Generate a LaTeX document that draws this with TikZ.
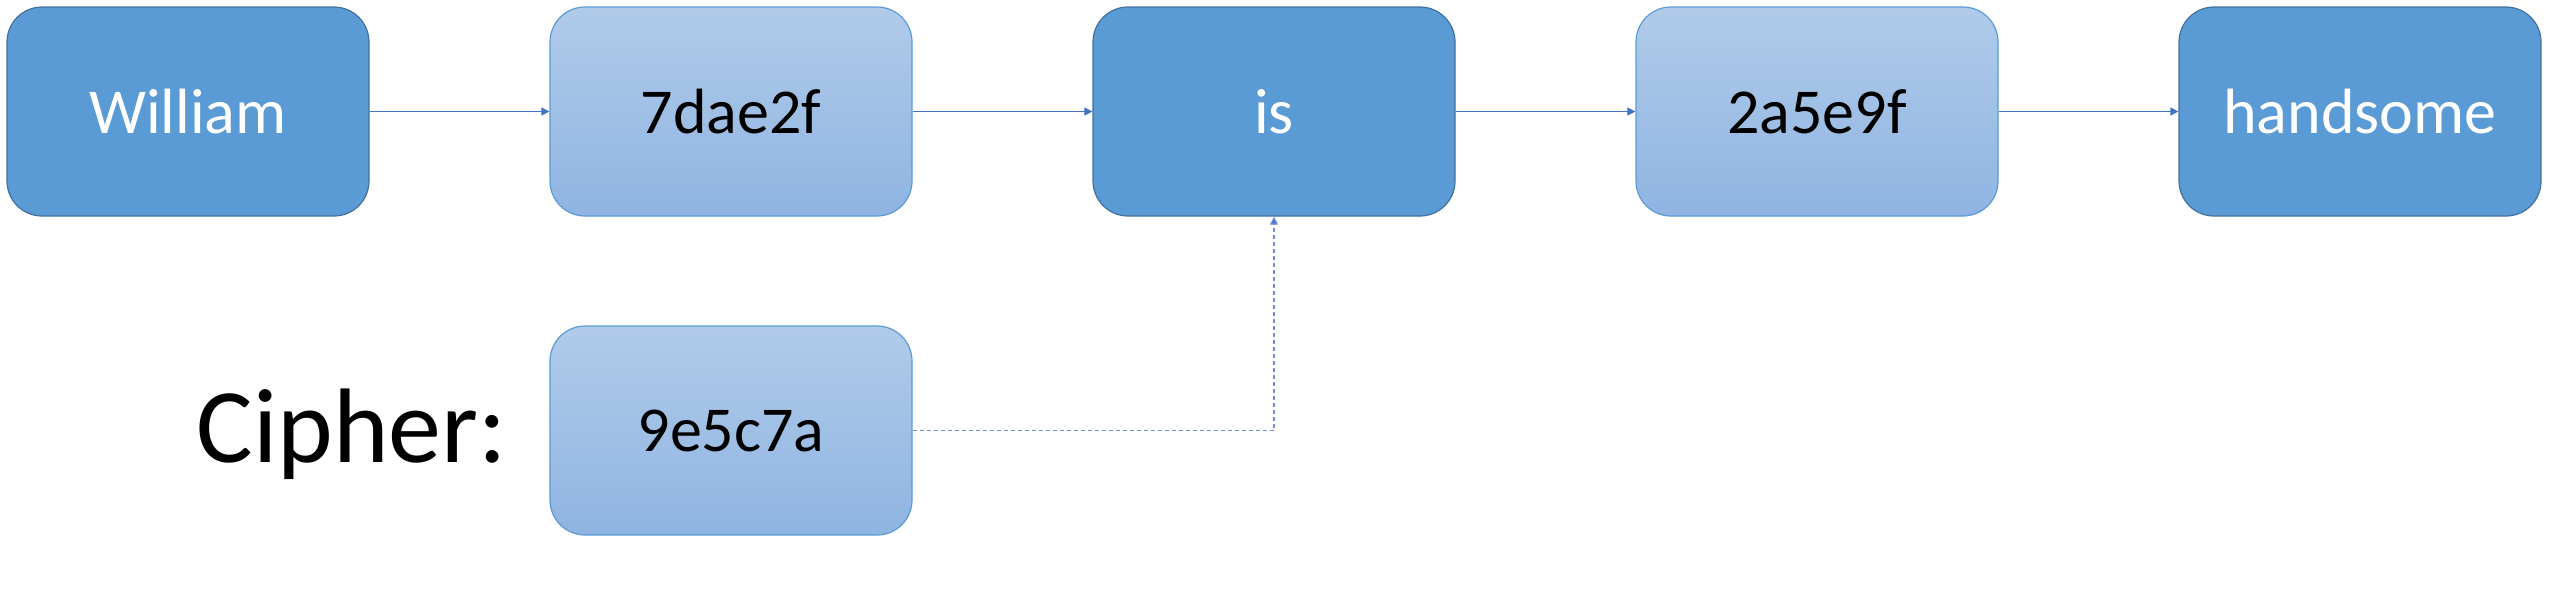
\documentclass[tikz,border=0pt]{standalone}
\usepackage{fontspec}
\setmainfont{Carlito}
\usetikzlibrary{arrows.meta}
\definecolor{darkfill}{HTML}{5B9BD5}
\definecolor{darkline}{HTML}{41719C}
\definecolor{lighttop}{HTML}{B1CBE9}
\definecolor{lightbot}{HTML}{8FB4E2}
\definecolor{lightline}{HTML}{5B9BD5}
\definecolor{arrowcol}{HTML}{4472C4}
\definecolor{dashcol}{HTML}{6F8FD2}
\tikzset{
  boxbase/.style={rectangle, rounded corners=17.5pt, minimum width=181pt, minimum height=104.5pt, inner sep=0pt, font=\fontsize{32}{38}\selectfont},
  darkbox/.style={boxbase, fill=darkfill, draw=darkline, line width=0.6pt, text=white},
  lightbox/.style={boxbase, top color=lighttop, bottom color=lightbot, draw=lightline, line width=0.6pt, text=black},
  arr/.style={draw=arrowcol, line width=0.5pt, -{Triangle[length=4pt,width=4pt]}},
  darr/.style={draw=dashcol, line width=0.6pt, dash pattern=on 2pt off 1.5pt, -{Triangle[length=4pt,width=4pt,fill=arrowcol]}}
}
\begin{document}
\begin{tikzpicture}[x=0.5pt,y=-0.5pt]
\useasboundingbox (0,0) rectangle (2552,591);
\node[darkbox]  (w)  at (188,111.5)  {William};
\node[lightbox] (k1) at (731,111.5)  {7dae2f};
\node[darkbox]  (is) at (1274,111.5) {is};
\node[lightbox] (k2) at (1817,111.5) {2a5e9f};
\node[darkbox]  (hs) at (2360,111.5) {handsome};
\node[lightbox] (ck) at (731,430.5)  {9e5c7a};
\node[anchor=base, inner sep=0pt, font=\fontsize{53}{64}\selectfont] (cl) at (352,462) {Cipher:};
\draw[arr] (w) -- (k1);
\draw[arr] (k1) -- (is);
\draw[arr] (is) -- (k2);
\draw[arr] (k2) -- (hs);
\draw[darr] (ck.east) -| (is.south);
\end{tikzpicture}
\end{document}
